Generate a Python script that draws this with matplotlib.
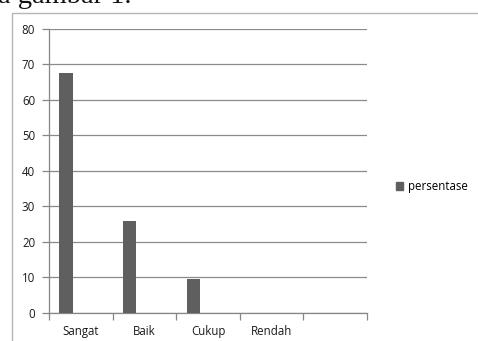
import matplotlib
matplotlib.use("Agg")
import matplotlib.pyplot as plt
import matplotlib.patches as mpatches
import numpy as np

categories = ["Sangat", "Baik", "Cukup", "Rendah", ""]
persentase = [67.7, 25.8, 9.5, 0, 0]
y_ticks = [0, 10, 20, 30, 40, 50, 60, 70, 80]
series_name = "persentase"

plt.rcParams['font.family'] = ['Open Sans', 'DejaVu Sans']

fig = plt.figure(figsize=(4.78, 3.41), dpi=100)
ax = fig.add_axes([49/478, 1-312.7/341, (367-49)/478, (312.7-29)/341])

n = len(categories)
x = np.arange(n)
ax.bar(x + 0.27, persentase, width=0.21, color="#5f5f5f", zorder=3)

fs = 8.3
ax.set_xlim(0, n)
ax.set_ylim(0, 80)
ax.set_yticks(y_ticks)
ax.set_yticklabels([str(v) for v in y_ticks], fontsize=fs, color="#1a1a1a")
ax.set_xticks(np.arange(n + 1))
ax.set_xticklabels([""] * (n + 1))
ax.set_xticks(x + 0.5, minor=True)
ax.set_xticklabels(categories, minor=True, fontsize=fs, color="#1a1a1a")
ax.tick_params(axis='x', which='minor', length=0, pad=8.5)
ax.tick_params(axis='x', which='major', length=5, color="#868686", width=0.9)
ax.tick_params(axis='y', length=5, color="#868686", width=0.9, pad=5)

ax.grid(axis='y', color="#8a8a8a", linewidth=0.9, zorder=0)
for s in ['top', 'right']:
    ax.spines[s].set_visible(False)
for s in ['left', 'bottom']:
    ax.spines[s].set_color("#868686")
    ax.spines[s].set_linewidth(0.9)

handle = mpatches.Patch(color="#5f5f5f", label=series_name)
fig.legend(handles=[handle], loc='center left', bbox_to_anchor=(386/478, 1-186.5/341),
           frameon=False, fontsize=fs, handlelength=0.6, handleheight=0.6,
           handletextpad=0.4)

# outer chart frame (partially visible)
frame = mpatches.Rectangle((11.5/478, -0.1), 1.2, (341-12.5)/341 + 0.1,
                           transform=fig.transFigure, fill=False,
                           edgecolor="#b5b5b5", linewidth=1.0)
fig.patches.append(frame)

# cropped document text at top
fig.text(-2/478, 1-3/341, "a gambar 1.", family="Liberation Serif", fontsize=20.5,
         va='baseline', ha='left', color="#111111")

fig.savefig("out.png", dpi=100)
